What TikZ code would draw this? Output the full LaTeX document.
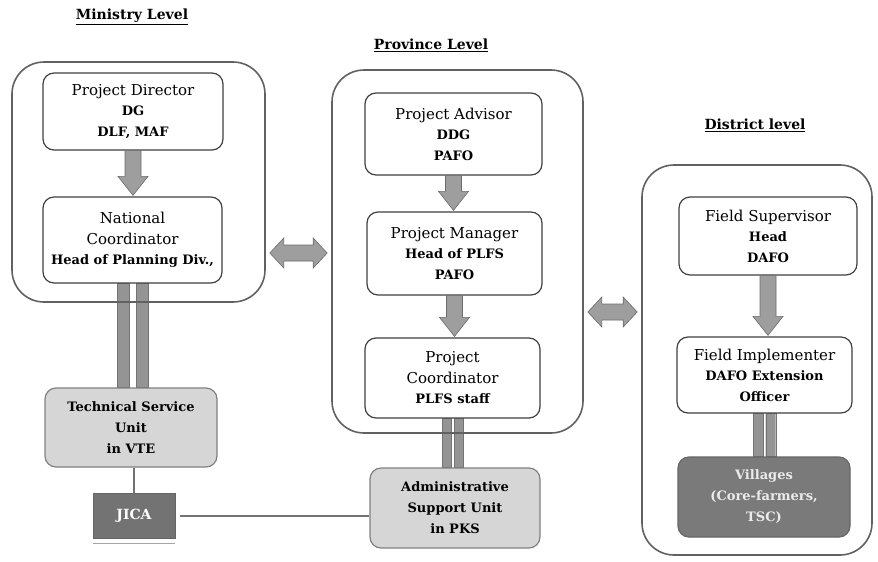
\documentclass[tikz,border=0pt]{standalone}
\usepackage{fontspec}
\setmainfont{DejaVu Serif}
\usetikzlibrary{calc,backgrounds}
\newcommand\sline[1]{{\fontsize{13}{20.5}\selectfont\bfseries #1}}
\newcommand{\blkdn}[2]{%
  \path[blk] let \p1=(#1.south), \p2=(#2.north) in
  (\x1-8pt,\y1) -- (\x1+8pt,\y1) -- (\x1+8pt,\y2+20pt) -- (\x1+15pt,\y2+20pt)
  -- (\x1,\y2+1pt) -- (\x1-15pt,\y2+20pt) -- (\x1-8pt,\y2+20pt) -- cycle;}
\newcommand{\blkdbl}[3]{%
  \path[blk] let \p1=(#1.east), \p2=(#2.west), \p3=(0,#3) in
  (\x1+4pt,\y3) -- (\x1+18pt,\y3+15pt) -- (\x1+18pt,\y3+8pt) -- (\x2-18pt,\y3+8pt)
  -- (\x2-18pt,\y3+15pt) -- (\x2-4pt,\y3) -- (\x2-18pt,\y3-15pt) -- (\x2-18pt,\y3-8pt)
  -- (\x1+18pt,\y3-8pt) -- (\x1+18pt,\y3-15pt) -- cycle;}
\newcommand{\dbars}[4]{% from, to, half gap, bar width
  \path[barf] let \p1=(#1.south), \p2=(#2.north) in
  (\x1-#3-#4,\y1) rectangle (\x1-#3,\y2)
  (\x1+#3,\y1) rectangle (\x1+#3+#4,\y2);}
\tikzset{
  cont/.style={draw=black!62, line width=1.6pt, rounded corners=32pt, inner sep=0pt},
  ibox/.style={draw=black!75, line width=1.2pt, rounded corners=11pt, fill=white,
    align=center, inner sep=0pt, font=\fontsize{15}{20.5}\selectfont},
  unitbox/.style={ibox, fill=black!16, draw=black!50, font=\fontsize{13}{21}\selectfont\bfseries},
  villbox/.style={ibox, fill=black!52, draw=black!60, text=black!8,
    font=\fontsize{13}{21}\selectfont\bfseries},
  jicabox/.style={fill=black!55, draw=black!60, inner sep=0pt, text=white,
    font=\fontsize{14}{16}\selectfont\bfseries},
  blk/.style={fill=black!38, draw=black!58, line width=0.6pt},
  barf/.style={fill=black!42, draw=black!55, line width=0.4pt},
  thinline/.style={draw=black!55, line width=2.6pt},
  heading/.style={font=\fontsize{14}{16}\selectfont\bfseries}
}
\begin{document}
\begin{tikzpicture}[x=1pt,y=-1pt]
\useasboundingbox (0,0) rectangle (878,562);
% headings
\node[heading] (hmin) at (132,17) {\underline{Ministry Level}};
\node[heading] (hprov) at (431,45) {\underline{Province Level}};
\node[heading] (hdist) at (755,125) {\underline{District level}};
% containers
\node[cont, minimum width=253pt, minimum height=240pt] (min) at (138.5,182) {};
\node[cont, minimum width=251pt, minimum height=363pt] (prov) at (457.5,251.5) {};
\node[cont, minimum width=230pt, minimum height=390pt] (dist) at (757,360) {};
% ministry
\node[ibox, minimum width=180pt, minimum height=77pt] (pd) at (133,111.5)
  {Project Director\\\sline{DG}\\\sline{DLF, MAF}};
\node[ibox, minimum width=179pt, minimum height=86pt] (nc) at (132.5,240)
  {National\\Coordinator\\\sline{Head of Planning Div.,}};
\node[unitbox, minimum width=172pt, minimum height=79pt] (tsu) at (131,427.5)
  {Technical Service\\Unit\\in VTE};
\node[jicabox, minimum width=82pt, minimum height=45pt] (jica) at (134,515.5) {JICA};
% province
\node[ibox, minimum width=177pt, minimum height=82pt] (pa) at (453.5,134)
  {Project Advisor\\\sline{DDG}\\\sline{PAFO}};
\node[ibox, minimum width=175pt, minimum height=83pt] (pm) at (454.5,253.5)
  {Project Manager\\\sline{Head of PLFS}\\\sline{PAFO}};
\node[ibox, minimum width=175pt, minimum height=80pt] (pc) at (452.5,378)
  {Project\\Coordinator\\\sline{PLFS staff}};
\node[unitbox, minimum width=170pt, minimum height=80pt] (asu) at (455,508)
  {Administrative\\Support Unit\\in PKS};
% district
\node[ibox, minimum width=178pt, minimum height=78pt] (fs) at (768,236)
  {Field Supervisor\\\sline{Head}\\\sline{DAFO}};
\node[ibox, minimum width=175pt, minimum height=76pt] (fi) at (764.5,375)
  {Field Implementer\\\sline{DAFO Extension}\\\sline{Officer}};
\node[villbox, minimum width=172pt, minimum height=80pt] (vil) at (764,497)
  {Villages\\(Core-farmers,\\TSC)};
% block arrows
\blkdn{pd}{nc}
\blkdn{pa}{pm}
\blkdn{pm}{pc}
\blkdn{fs}{fi}
\blkdbl{min}{prov}{253}
\blkdbl{prov}{dist}{312}
% double bars
\begin{pgfonlayer}{background}
\dbars{nc}{tsu}{3.5pt}{12pt}
\dbars{pc}{asu}{1.5pt}{9pt}
\dbars{fi}{vil}{1.2pt}{10pt}
\end{pgfonlayer}
% thin connectors
\draw[thinline] (jica.north |- tsu.south) -- (jica.north);
\draw[thinline, line width=2pt, shorten <=5pt] (jica.east) -- (jica.east -| asu.west);
\draw[black!35, line width=0.8pt] ([yshift=-5pt]jica.south west) -- ([yshift=-5pt]jica.south east);
\end{tikzpicture}
\end{document}
